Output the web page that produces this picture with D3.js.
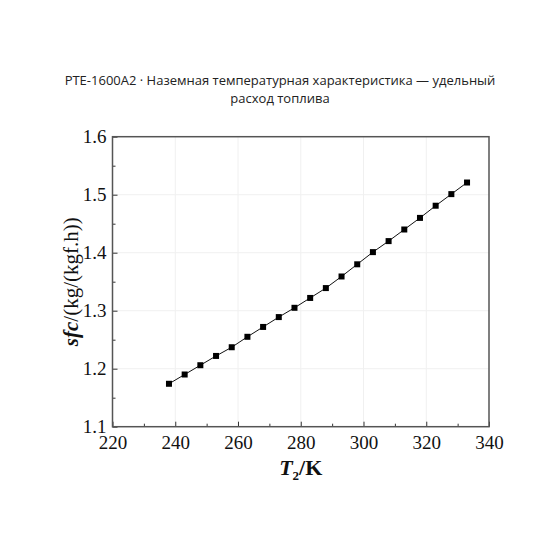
<!DOCTYPE html>
<meta charset="utf-8">
<style>
    body { margin: 0; background: #fff; }
    .title { font-family: "Open Sans", "Noto Sans", sans-serif; font-size: 13px; fill: #222; }
    .tick text { font-family: "Liberation Serif", "Times New Roman", serif; font-size: 19px; fill: #111; }
    .axlabel { font-family: "Liberation Serif", "Times New Roman", serif; fill: #111; }
</style>
<body>
<div id="chart"></div>
<script src="https://d3js.org/d3.v7.min.js"></script>
<script>
    var titleLines = ["PTE-1600A2 · Наземная температурная характеристика — удельный", "расход топлива"];
    var temps = [238, 243, 248, 253, 258, 263, 268, 273, 278, 283, 288, 293, 298, 303, 308, 313, 318, 323, 328, 333];
    var sfc = [1.174, 1.190, 1.206, 1.222, 1.237, 1.255, 1.272, 1.289, 1.305, 1.322,
               1.339, 1.359, 1.380, 1.401, 1.420, 1.440, 1.460, 1.481, 1.501, 1.521];
    var xTicks = [220, 240, 260, 280, 300, 320, 340];
    var yTicks = [1.1, 1.2, 1.3, 1.4, 1.5, 1.6];

    var width = 560, height = 560;
    var margin = { left: 112.5, top: 136.7, right: 71, bottom: 133.3 };
    var iw = width - margin.left - margin.right,
        ih = height - margin.top - margin.bottom;

    var svg = d3.select("#chart").append("svg")
        .attr("width", width)
        .attr("height", height);

    // title
    svg.append("text")
        .attr("class", "title")
        .attr("x", 280)
        .attr("y", 84.5)
        .attr("text-anchor", "middle")
        .selectAll("tspan")
        .data(titleLines)
        .enter().append("tspan")
        .attr("x", 280)
        .attr("dy", function (d, i) { return i ? 18.5 : 0; })
        .text(function (d) { return d; });

    var g = svg.append("g").attr("transform", "translate(" + margin.left + "," + margin.top + ")");

    var x = d3.scaleLinear().domain([220, 340]).range([0, iw]);
    var y = d3.scaleLinear().domain([1.1, 1.6]).range([ih, 0]);

    // faint grid
    g.append("g").selectAll("line")
        .data(xTicks.slice(1, -1))
        .enter().append("line")
        .attr("x1", x).attr("x2", x)
        .attr("y1", 0).attr("y2", ih)
        .attr("stroke", "#f0f0f0");
    g.append("g").selectAll("line")
        .data(yTicks.slice(1, -1))
        .enter().append("line")
        .attr("y1", y).attr("y2", y)
        .attr("x1", 0).attr("x2", iw)
        .attr("stroke", "#f0f0f0");

    // minor ticks
    var xMinor = d3.range(230, 340, 20);
    var yMinor = d3.range(1.15, 1.6, 0.1);
    g.append("g").attr("transform", "translate(0," + ih + ")")
        .call(d3.axisBottom(x).tickValues(xMinor).tickSize(-3).tickFormat(""))
        .call(function (a) { a.select(".domain").remove(); a.selectAll("line").attr("stroke", "#333"); });
    g.append("g")
        .call(d3.axisLeft(y).tickValues(yMinor).tickSize(-3).tickFormat(""))
        .call(function (a) { a.select(".domain").remove(); a.selectAll("line").attr("stroke", "#333"); });

    // major axes
    g.append("g").attr("transform", "translate(0," + ih + ")")
        .call(d3.axisBottom(x).tickValues(xTicks).tickSize(-5).tickFormat(d3.format("d")))
        .call(function (a) {
            a.select(".domain").remove();
            a.selectAll("line").attr("stroke", "#333");
            a.selectAll("text").attr("y", 22).attr("dy", 0);
        });
    g.append("g")
        .call(d3.axisLeft(y).tickValues(yTicks).tickSize(-5).tickPadding(6).tickFormat(d3.format(".1f")))
        .call(function (a) {
            a.select(".domain").remove();
            a.selectAll("line").attr("stroke", "#333");
        });

    // frame
    g.append("rect")
        .attr("width", iw).attr("height", ih)
        .attr("fill", "none")
        .attr("stroke", "#555")
        .attr("stroke-width", 1.5);

    // line + markers
    var pts = temps.map(function (t, i) { return [t, sfc[i]]; });
    g.append("path")
        .datum(pts)
        .attr("fill", "none")
        .attr("stroke", "#111")
        .attr("stroke-width", 1)
        .attr("d", d3.line().x(function (d) { return x(d[0]); }).y(function (d) { return y(d[1]); }));

    var ms = 6;
    g.selectAll(".pt")
        .data(pts)
        .enter().append("rect")
        .attr("class", "pt")
        .attr("x", function (d) { return x(d[0]) - ms / 2; })
        .attr("y", function (d) { return y(d[1]) - ms / 2; })
        .attr("width", ms).attr("height", ms)
        .attr("fill", "#000");

    // axis labels
    var xl = svg.append("text")
        .attr("class", "axlabel")
        .attr("x", margin.left + iw / 2)
        .attr("y", 475)
        .attr("text-anchor", "middle")
        .style("font-size", "22px")
        .style("font-weight", "bold");
    xl.append("tspan").style("font-style", "italic").text("T");
    xl.append("tspan").attr("dy", 5).style("font-size", "13px").text("2");
    xl.append("tspan").attr("dy", -5).text("/K");

    var yl = svg.append("text")
        .attr("class", "axlabel")
        .attr("transform", "translate(78," + (margin.top + ih / 2) + ") rotate(-90)")
        .attr("text-anchor", "middle")
        .style("font-size", "21px");
    yl.append("tspan").style("font-style", "italic").style("font-weight", "bold").text("sfc");
    yl.append("tspan").text("/(kg/(kgf.h))");
</script>
</body>
